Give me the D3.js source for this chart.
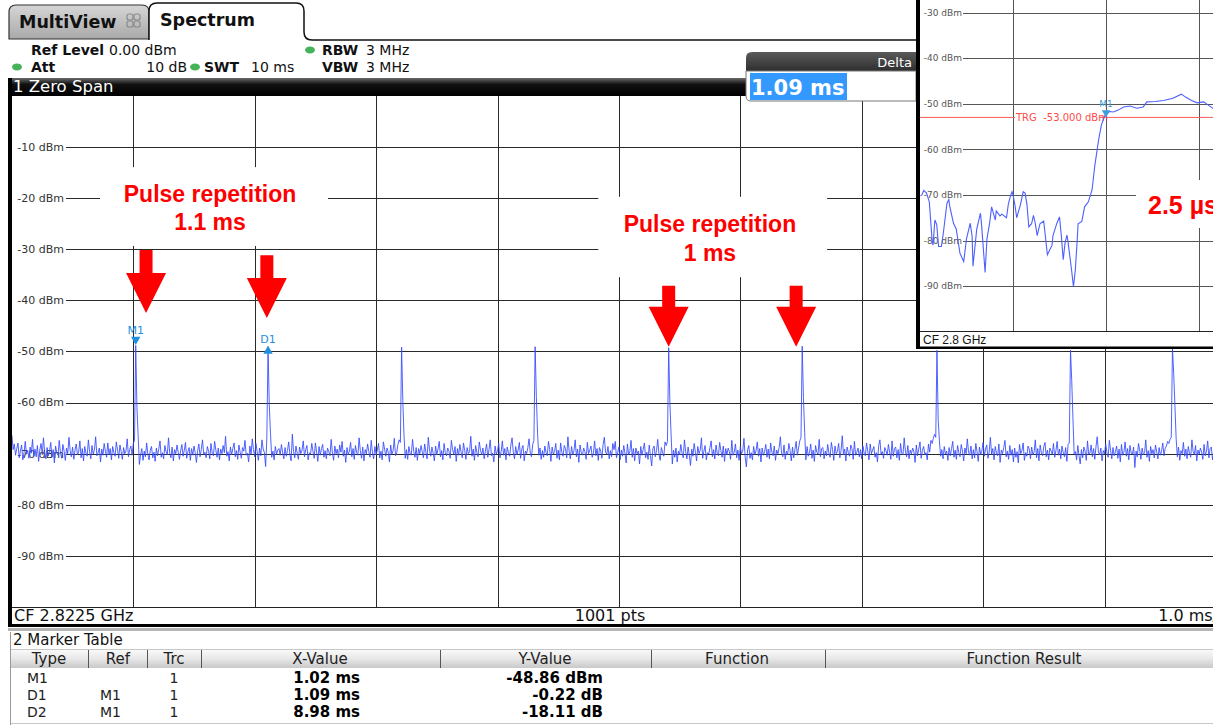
<!DOCTYPE html>
<html><head><meta charset="utf-8">
<script src="https://cdn.jsdelivr.net/npm/d3@7"></script>
<style>html,body{margin:0;padding:0;background:#fff;overflow:hidden}svg{display:block}text{font-family:"DejaVu Sans",sans-serif}</style>
</head><body><svg id="c" width="1213" height="725"></svg>
<script>
// ---------- DATA ----------
const sampleStepMs = 0.01; // 1001 pts over 10 ms
const noise = [
-66.4,-69.2,-68.1,-70.3,-69.0,-67.9,-70.8,-69.5,-68.3,-71.2,-69.8,-67.6,-70.1,-69.4,-70.9,-68.7,-69.9,-67.2,-70.5,-69.1,
-70.6,-68.4,-71.5,-69.3,-68.0,-70.2,-66.9,-69.7,-71.0,-68.8,-70.4,-69.6,-67.8,-70.7,-69.2,-71.8,-68.5,-69.9,-70.3,-67.4,
-69.8,-70.9,-68.2,-69.5,-71.3,-68.9,-70.0,-66.8,-69.4,-70.6,-68.7,-71.1,-69.3,-68.1,-70.2,-69.7,-67.5,-70.8,-69.0,-71.4,
-68.6,-69.9,-70.5,-67.3,-69.6,-71.0,-68.4,-70.1,-69.2,-66.7,-70.4,-69.8,-68.9,-71.6,-69.1,-70.3,-68.0,-69.5,-70.7,-67.9,
-70.2,-69.0,-71.2,-68.6,-69.8,-70.5,-67.7,-69.3,-70.9,-68.3,-69.6,-71.1,-68.8,-70.0,-69.4,-67.1,-70.6,-69.2,-68.5,-70.3,
-68.0,-67.4,-66.0,-67.0,-68.5,-72.1,-70.2,-69.0,-71.3,-69.5,-70.6,-67.9,-70.1,-71.2,-69.3,-68.6,-70.8,-69.7,-71.5,-68.9,
-70.4,-69.1,-67.5,-70.7,-69.8,-71.0,-68.4,-69.6,-70.2,-66.9,-69.9,-70.8,-68.7,-71.4,-69.2,-70.0,-68.3,-69.7,-71.1,-69.4,
-68.2,-70.5,-69.3,-67.8,-70.9,-69.6,-68.8,-71.3,-69.0,-70.3,-68.5,-69.8,-71.7,-69.4,-68.1,-70.6,-69.2,-67.3,-70.1,-69.7,
-70.8,-68.6,-69.5,-71.0,-68.0,-69.9,-70.4,-67.6,-69.3,-70.7,-68.9,-71.2,-69.1,-70.0,-68.4,-69.8,-66.6,-70.5,-69.6,-71.4,
-68.7,-70.2,-69.0,-67.9,-70.6,-69.4,-71.1,-68.3,-69.7,-70.9,-68.8,-69.5,-67.4,-70.3,-69.9,-71.6,-68.5,-70.1,-67.1,-69.2,
-70.6,-68.0,-69.6,-71.3,-68.9,-70.4,-67.3,-69.1,-69.8,-72.5,-67.0,-66.0,-66.8,-68.9,-70.7,-69.5,-71.2,-68.6,-70.1,-69.3,
-69.0,-70.3,-68.2,-69.7,-71.0,-68.8,-70.5,-69.4,-67.7,-70.2,-71.4,-66.2,-69.6,-70.8,-68.5,-69.9,-71.1,-68.7,-70.0,-69.3,
-67.5,-70.6,-69.2,-68.4,-71.2,-69.8,-70.1,-68.0,-69.5,-70.9,-67.9,-69.7,-71.5,-68.6,-70.3,-69.0,-68.2,-70.7,-69.4,-71.0,
-68.9,-69.6,-70.4,-67.2,-69.9,-71.3,-68.5,-70.0,-69.1,-70.8,-68.3,-69.7,-67.6,-70.5,-69.3,-71.7,-68.8,-70.2,-69.5,-67.8,
-70.6,-69.0,-71.1,-68.4,-69.8,-70.3,-66.9,-69.4,-70.9,-68.7,-71.4,-69.2,-70.0,-68.1,-69.6,-70.7,-67.4,-69.9,-71.0,-68.6,
-70.2,-69.3,-68.0,-70.8,-69.5,-71.2,-67.7,-69.1,-70.5,-68.9,-69.7,-71.6,-68.3,-70.1,-69.4,-67.0,-70.4,-69.8,-68.2,-67.3,
-67.8,-66.5,-66.0,-67.5,-70.9,-69.2,-71.1,-68.6,-69.9,-70.3,-67.2,-69.5,-70.7,-68.8,-71.3,-69.0,-70.0,-68.4,-69.6,-70.8,
-68.1,-69.7,-71.0,-66.8,-69.3,-70.5,-68.7,-69.9,-71.4,-68.5,-70.2,-69.1,-67.6,-70.6,-69.4,-71.2,-68.0,-69.8,-70.4,-68.9,
-69.5,-70.9,-67.4,-69.2,-70.1,-68.6,-71.5,-69.0,-70.3,-68.2,-69.7,-70.8,-67.9,-69.4,-71.1,-68.8,-70.0,-69.6,-66.6,-70.5,
-69.1,-71.3,-68.4,-69.8,-70.6,-67.7,-69.3,-70.2,-68.9,-71.0,-69.5,-68.1,-70.7,-69.2,-67.3,-70.4,-69.9,-71.6,-68.5,-70.1,
-69.4,-68.0,-70.8,-69.6,-67.5,-70.3,-69.0,-71.2,-68.7,-69.8,-70.5,-68.3,-66.9,-69.7,-71.0,-68.6,-70.2,-69.3,-67.8,-70.9,
-69.1,-68.4,-71.4,-69.5,-70.0,-68.8,-67.1,-69.9,-70.6,-68.2,-67.4,-66.2,-66.0,-67.0,-70.3,-68.9,-71.1,-69.4,-70.7,-68.5,
-69.8,-70.4,-67.6,-69.2,-71.5,-68.7,-70.1,-69.6,-68.0,-70.9,-69.3,-71.2,-67.9,-69.7,-70.5,-68.4,-69.0,-70.8,-66.7,-69.5,
-71.0,-68.6,-70.2,-69.4,-67.3,-70.6,-69.1,-71.7,-68.3,-69.8,-70.3,-68.9,-69.6,-71.1,-67.8,-70.0,-69.3,-68.5,-70.7,-69.9,
-67.5,-70.4,-69.0,-71.3,-68.8,-69.5,-70.9,-68.2,-66.8,-69.7,-70.1,-68.6,-71.0,-69.4,-70.6,-68.0,-69.2,-67.6,-70.8,-69.8,
-68.7,-71.2,-69.3,-70.5,-68.4,-69.9,-71.8,-68.1,-70.2,-69.6,-67.4,-70.7,-69.0,-71.4,-68.9,-70.0,-69.5,-72.0,-68.6,-70.3,
-69.2,-67.9,-70.8,-69.7,-71.1,-68.3,-70.4,-72.4,-69.0,-68.5,-70.6,-69.4,-67.2,-70.1,-71.3,-68.8,-69.8,-70.5,-67.7,-68.4,
-67.6,-66.5,-66.0,-67.2,-72.0,-69.3,-70.7,-68.9,-71.6,-69.5,-70.2,-68.2,-69.9,-70.8,-67.3,-69.6,-71.0,-68.7,-70.3,-72.3,
-69.1,-70.5,-68.0,-69.7,-71.4,-68.6,-70.0,-69.3,-66.9,-70.9,-69.5,-68.4,-71.2,-69.8,-70.1,-68.8,-67.5,-70.6,-69.2,-71.0,
-68.3,-69.9,-70.4,-67.8,-69.4,-70.7,-68.5,-71.5,-69.0,-70.2,-68.9,-69.6,-71.1,-67.4,-70.3,-69.7,-68.1,-70.8,-69.3,-71.3,
-68.7,-70.0,-69.5,-67.0,-70.6,-72.6,-69.2,-68.4,-70.9,-69.8,-71.2,-68.6,-70.1,-69.4,-67.7,-70.5,-69.0,-71.6,-68.9,-70.3,
-69.6,-68.2,-70.7,-69.1,-71.0,-67.9,-69.7,-70.4,-68.5,-71.3,-69.3,-70.0,-68.8,-66.7,-69.9,-70.6,-68.3,-71.1,-69.5,-70.2,
-68.0,-69.4,-71.4,-68.7,-70.8,-69.2,-67.6,-70.3,-68.9,-67.5,-66.8,-66.0,-67.0,-69.0,-71.2,-68.6,-70.5,-69.8,-68.1,-70.9,
-69.3,-71.5,-68.4,-69.7,-70.1,-67.2,-70.6,-69.0,-68.8,-71.0,-69.5,-70.4,-68.2,-69.9,-70.7,-67.8,-69.2,-71.3,-68.5,-70.0,
-69.6,-68.0,-70.8,-69.4,-66.5,-70.2,-69.1,-71.4,-68.7,-69.8,-70.5,-68.3,-69.0,-71.1,-67.6,-70.3,-69.7,-68.9,-70.6,-69.2,
-71.0,-68.5,-69.9,-70.4,-67.9,-69.5,-71.2,-68.1,-70.0,-69.3,-68.6,-70.7,-69.8,-71.6,-68.4,-67.3,-70.1,-69.6,-70.9,-68.8,
-69.4,-70.3,-68.2,-69.7,-71.1,-67.5,-70.5,-69.0,-68.7,-70.8,-69.2,-71.3,-68.0,-69.9,-70.2,-66.9,-69.5,-70.6,-68.4,-71.0,
-69.3,-70.0,-68.9,-69.6,-71.7,-68.3,-70.4,-69.1,-67.7,-70.9,-69.4,-68.6,-70.2,-69.8,-71.2,-68.1,-69.7,-67.4,-68.0,-67.0,
-66.2,-66.8,-66.0,-67.0,-68.0,-70.5,-69.2,-71.0,-68.6,-70.1,-69.5,-71.3,-68.8,-70.4,-69.0,-67.6,-70.7,-69.3,-71.1,-68.4,
-69.8,-70.6,-68.2,-69.5,-71.4,-68.9,-70.0,-67.1,-69.7,-70.3,-68.5,-71.0,-69.2,-70.8,-68.0,-69.6,-71.5,-68.7,-70.2,-69.4,
-67.8,-70.5,-69.1,-68.3,-70.9,-69.7,-66.8,-70.1,-69.0,-71.2,-68.6,-69.9,-70.4,-68.1,-71.7,-69.3,-70.0,-68.8,-67.4,-70.6,
-69.5,-71.1,-68.4,-70.3,-69.2,-71.6,-68.9,-70.7,-69.6,-71.8,-68.2,-70.0,-69.4,-67.9,-71.3,-69.8,-70.5,-68.5,-69.1,-71.0,
-68.7,-70.2,-69.7,-67.3,-70.8,-69.0,-71.4,-68.3,-69.9,-70.4,-68.6,-67.8,-70.6,-69.3,-71.2,-68.9,-69.5,-70.1,-68.0,-70.7,
-69.4,-67.6,-70.3,-69.1,-71.0,-68.5,-69.8,-70.6,-68.8,-71.5,-68.2,-67.9,-66.0,-67.0,-68.0,-70.0,-69.6,-71.2,-68.4,-70.4,
-72.0,-69.2,-70.8,-68.7,-69.5,-71.3,-67.5,-70.1,-69.9,-68.3,-70.6,-69.0,-71.1,-68.6,-66.7,-69.7,-70.2,-68.9,-71.4,-69.4,
-70.0,-68.1,-69.8,-70.7,-67.4,-69.3,-71.0,-68.8,-70.4,-69.6,-68.5,-70.9,-69.1,-71.6,-68.2,-70.3,-69.7,-67.7,-70.5,-69.0,
-71.2,-68.4,-69.9,-70.1,-68.7,-72.7,-69.5,-70.6,-68.0,-69.3,-71.1,-68.9,-70.2,-69.8,-67.3,-70.7,-69.4,-71.5,-68.6,-70.0,
-69.2,-70.8,-68.3,-69.6,-71.0,-68.8,-70.3,-69.5,-67.9,-70.4,-69.0,-68.5,-67.6,-68.0,-67.2,-66.8,-66.0,-67.0,-68.0,-67.0,
-70.6,-68.7,-71.3,-69.4,-70.0,-67.8,-70.5,-69.1,-71.0,-68.6,-69.9,-70.7,-67.3,-69.6,-70.2,-68.4,-71.4,-69.3,-70.1,-68.9,
-69.7,-71.1,-68.2,-70.4,-69.5,-67.5,-70.8,-69.0,-68.7,-71.2,-69.4,-70.3,-68.0,-69.8,-71.5,-68.6,-70.0,-69.2,-67.7,-70.5,
-69.1
];
const pulseIdx   = [102, 211, 321, 431, 541, 651, 762, 872, 956];
const pulsePeak  = [-48.86, -49.08, -49.2, -49.1, -49.3, -49.0, -49.8, -49.8, -49.4];
const pulseTail1 = [-61.0, -60.5, -59.6, -58.8, -60.0, -59.0, -63.3, -55.7, -54.3];
const pulseTail2 = [-66.5, -66.0, -66.5, -66.0, -66.3, -65.8, -67.5, -63.0, -60.5];

const yTicks = [-10, -20, -30, -40, -50, -60, -70, -80, -90];
const timeGrid = [1, 2, 3, 4, 5, 6, 7, 8, 9];

const markerNames = ["M1", "D1"];
const markerTime  = [1.02, 2.11];
const markerLevel = [-48.86, -49.08];

// annotation arrows (time in ms, levels in dBm)
const arrowTime = [1.105, 2.10, 5.41, 6.46];
const arrowTop  = [-30.2, -31.2, -37.2, -37.2];
const arrowTip  = [-42.5, -43.5, -49.1, -49.1];
const noteLine1 = ["Pulse repetition", "Pulse repetition"];
const noteLine2 = ["1.1 ms", "1 ms"];
const noteTime  = [1.632, 5.75];
const noteBase1 = [-20.75, -26.6];
const noteBase2 = [-26.3, -32.3];
const noteBoxT0 = [0.726, 4.83], noteBoxT1 = [2.604, 6.715];
const noteBoxL0 = [-14.0, -19.8], noteBoxL1 = [-29.4, -35.5];

// inset (rising edge, time in µs)
const insetTime = [0.005,0.02,0.04,0.07,0.10,0.13,0.14,0.16,0.18,0.20,0.23,0.25,0.29,0.31,0.32,0.36,0.39,0.43,0.47,0.50,
0.54,0.56,0.57,0.61,0.65,0.66,0.70,0.72,0.75,0.77,0.81,0.82,0.86,0.88,0.93,0.95,0.97,0.99,1.00,1.02,
1.04,1.08,1.11,1.13,1.15,1.17,1.20,1.22,1.24,1.26,1.29,1.33,1.37,1.42,1.43,1.47,1.50,1.52,1.54,1.56,
1.58,1.59,1.63,1.65,1.67,1.69,1.70,1.74,1.77,1.81,1.85,1.88,1.92,1.95,1.98,2.01,2.04,2.08,2.13,2.19,
2.26,2.33,2.40,2.44,2.53,2.62,2.72,2.81,2.86,2.92,2.98,3.05,3.10,3.15,3.20];
const insetLevel = [-70.2,-70.0,-69.0,-69.6,-71.5,-79.9,-81.0,-75.5,-76.5,-81.3,-81.3,-78.5,-71.8,-71.0,-72.5,-76.2,-77.5,-82.8,-84.6,-79.6,
-76.2,-79.0,-85.6,-77.5,-74.0,-76.0,-87.0,-79.6,-76.0,-72.6,-75.5,-73.5,-74.6,-74.2,-75.0,-72.0,-70.4,-69.3,-70.0,-72.1,
-75.0,-72.1,-69.3,-69.6,-72.1,-77.0,-76.3,-74.5,-76.3,-78.9,-76.3,-75.7,-83.1,-81.0,-78.9,-76.3,-74.8,-79.0,-84.2,-80.5,
-78.8,-80.0,-86.5,-90.1,-86.5,-80.0,-76.3,-75.8,-72.6,-71.5,-68.9,-63.5,-58.0,-54.7,-53.0,-52.1,-51.7,-51.8,-51.4,-50.7,
-50.5,-51.0,-50.7,-49.6,-49.5,-49.3,-48.8,-47.9,-48.6,-49.3,-49.8,-49.6,-50.3,-51.0,-51.5];
const insetYTicks = [-30, -40, -50, -60, -70, -80, -90];
const insetTimeGrid = [1, 2, 3];
const triggerLevel = -53;
const insetMarkerTime = 2.0, insetMarkerLevel = -52.6;

// marker table
const tableHeaders = ["Type", "Ref", "Trc", "X-Value", "Y-Value", "Function", "Function Result"];
const tableType = ["M1", "D1", "D2"];
const tableRef  = ["", "M1", "M1"];
const tableTrc  = ["1", "1", "1"];
const tableX    = ["1.02 ms", "1.09 ms", "8.98 ms"];
const tableY    = ["-48.86 dBm", "-0.22 dB", "-18.11 dB"];

// ---------- DRAW ----------
const svg = d3.select("#c");
const defs = svg.append("defs");
function lg(id, stops){ const g = defs.append("linearGradient").attr("id",id).attr("x1",0).attr("y1",0).attr("x2",0).attr("y2",1);
  stops.forEach(s=>g.append("stop").attr("offset",s[0]).attr("stop-color",s[1])); }
lg("tabG",[[0,"#d6d6d6"],[1,"#a9a9a9"]]);
lg("barG",[[0,"#6a6a6a"],[0.35,"#111"],[1,"#000"]]);
lg("delG",[[0,"#5a5a5a"],[0.5,"#222"],[1,"#111"]]);
lg("hdrG",[[0,"#fbfbfb"],[0.5,"#e8e8e8"],[1,"#c9c9c9"]]);

svg.append("rect").attr("width",1213).attr("height",725).attr("fill","#fff");

// tabs
svg.append("path").attr("d","M9,39 L9,12 Q9,5 16,5 L142,5 Q149,5 149,12 L149,39 Z")
  .attr("fill","url(#tabG)").attr("stroke","#333").attr("stroke-width",1.2);
svg.append("text").attr("x",19).attr("y",28).attr("font-size",17.5).attr("font-weight","bold").attr("fill","#111").text("MultiView");
const ic = svg.append("g").attr("fill","none").attr("stroke","#8a8a8a").attr("stroke-width",1.2);
[[127,14],[134,14],[127,21],[134,21]].forEach(p=>ic.append("rect").attr("x",p[0]).attr("y",p[1]).attr("width",6).attr("height",6).attr("rx",2));
svg.append("path").attr("d","M149,40 L149,11 Q149,3 157,3 L296,3 Q304,3 304,11 L304,32 Q304,40 312,40 L916,40")
  .attr("fill","#fff").attr("stroke","#111").attr("stroke-width",1.5);
svg.append("rect").attr("x",150).attr("y",36).attr("width",152).attr("height",6).attr("fill","#fff");
svg.append("text").attr("x",160).attr("y",26).attr("font-size",17.5).attr("font-weight","bold").attr("fill","#111").text("Spectrum");

// header info
const hdr = svg.append("g").attr("font-size",14).attr("fill","#111");
function t(x,y,s,bold,anchor){ hdr.append("text").attr("x",x).attr("y",y).attr("font-weight",bold?"bold":"normal").attr("text-anchor",anchor||"start").text(s); }
t(31,55,"Ref Level",true); t(109,55,"0.00 dBm");
t(31,72,"Att",true); t(187,72,"10 dB",false,"end"); t(204,72,"SWT",true); t(251,72,"10 ms");
t(322,55,"RBW",true); t(366,55,"3 MHz");
t(322,72,"VBW",true); t(366,72,"3 MHz");
[[17,67],[195,67],[310,50]].forEach(p=>svg.append("ellipse").attr("cx",p[0]).attr("cy",p[1]).attr("rx",5).attr("ry",3.5).attr("fill","#44b35a"));

// main chart
const x = d3.scaleLinear().domain([0,10]).range([11.9,1225.9]);
const y = d3.scaleLinear().domain([0,-100]).range([95.5,607.2]);
const px = v => Math.round(v)+0.5;

svg.append("rect").attr("x",10).attr("y",78).attr("width",906).attr("height",18).attr("fill","url(#barG)");
svg.append("text").attr("x",13).attr("y",92).attr("font-size",16.5).attr("fill","#fff").text("1 Zero Span");

const grid = svg.append("g").attr("stroke","#2a2a2a").attr("stroke-width",1);
timeGrid.forEach(v=>grid.append("line").attr("x1",px(x(v))).attr("x2",px(x(v))).attr("y1",96).attr("y2",607));
yTicks.forEach(v=>grid.append("line").attr("x1",66).attr("x2",1213).attr("y1",px(y(v))).attr("y2",px(y(v))));
svg.append("g").selectAll("text").data(yTicks).join("text")
  .attr("x",64).attr("y",v=>y(v)).attr("dy","0.35em").attr("text-anchor","end")
  .attr("font-size",11).attr("fill","#333").text(v=>v+" dBm");

// annotation boxes
noteTime.forEach((_,j)=>svg.append("rect").attr("x",x(noteBoxT0[j])).attr("y",y(noteBoxL0[j]))
  .attr("width",x(noteBoxT1[j])-x(noteBoxT0[j])).attr("height",y(noteBoxL1[j])-y(noteBoxL0[j])).attr("fill","#fff"));

// trace
const trace = noise.slice();
pulseIdx.forEach((k,j)=>{ trace[k]=pulsePeak[j]; trace[k+1]=pulseTail1[j]; trace[k+2]=pulseTail2[j]; });
defs.append("clipPath").attr("id","plotClip").append("rect").attr("x",12).attr("y",96).attr("width",1201).attr("height",511);
svg.append("path").datum(trace).attr("clip-path","url(#plotClip)")
  .attr("fill","none").attr("stroke","#3348ff").attr("stroke-opacity",0.9).attr("stroke-width",0.95).attr("stroke-linejoin","round")
  .attr("d",d3.line().x((d,i)=>x(i*sampleStepMs)).y(d=>y(d)));

// markers
const mcol = "#1f8fe0";
markerNames.forEach((n,j)=>{
  const mx = x(markerTime[j]), my = y(markerLevel[j]);
  if(j===0){
    svg.append("path").attr("d",d3.symbol(d3.symbolTriangle,38)()).attr("transform",`translate(${mx},${my-6}) rotate(180)`).attr("fill",mcol);
    svg.append("text").attr("x",mx).attr("y",my-12).attr("text-anchor","middle").attr("font-size",11).attr("fill",mcol).text(n);
  } else {
    svg.append("path").attr("d",d3.symbol(d3.symbolTriangle,38)()).attr("transform",`translate(${mx},${my+4.5})`).attr("fill",mcol);
    svg.append("text").attr("x",mx).attr("y",my-4).attr("text-anchor","middle").attr("font-size",11).attr("fill",mcol).text(n);
  }
});

// arrows
arrowTime.forEach((tm,j)=>{
  const cx = x(tm), yt = y(arrowTop[j]), yp = y(arrowTip[j]), hs = yp-40;
  svg.append("polygon").attr("fill","#ff0000")
    .attr("points",[[cx-6.5,yt],[cx+6.5,yt],[cx+6.5,hs],[cx+20,hs],[cx,yp],[cx-20,hs],[cx-6.5,hs]].map(p=>p.join(",")).join(" "));
});
noteTime.forEach((tm,j)=>{
  const g = svg.append("g").attr("font-weight","bold")
    .attr("font-size",23).attr("fill","#ff0000").attr("text-anchor","middle");
  g.append("text").attr("x",x(tm)).attr("y",y(noteBase1[j])).style("font-family","Liberation Sans, Arial, sans-serif").text(noteLine1[j]);
  g.append("text").attr("x",x(tm)).attr("y",y(noteBase2[j])).style("font-family","Liberation Sans, Arial, sans-serif").text(noteLine2[j]);
});

// left frame and bottom bar
svg.append("rect").attr("x",8).attr("y",78).attr("width",4).attr("height",549).attr("fill","#000");
svg.append("rect").attr("x",12).attr("y",607).attr("width",1201).attr("height",18).attr("fill","#fff");
svg.append("line").attr("x1",12).attr("x2",1213).attr("y1",607.5).attr("y2",607.5).attr("stroke","#222");
svg.append("rect").attr("x",8).attr("y",624).attr("width",1205).attr("height",3).attr("fill","#000");
svg.append("rect").attr("x",8).attr("y",628).attr("width",1205).attr("height",3).attr("fill","#b5b5b5");
const bb = svg.append("g").attr("font-size",16).attr("fill","#111");
bb.append("text").attr("x",14).attr("y",621).text("CF 2.8225 GHz");
bb.append("text").attr("x",610).attr("y",621).attr("text-anchor","middle").text("1001 pts");
bb.append("text").attr("x",1218).attr("y",621).attr("text-anchor","end").text("1.0 ms/");

// delta box
svg.append("path").attr("d","M746,101 L746,58 Q746,52 752,52 L916,52 L916,71 L746,71 Z").attr("fill","url(#delG)");
svg.append("path").attr("d","M746,71 L916,71 L916,101 L751,101 Q746,101 746,96 Z").attr("fill","#fff").attr("stroke","#777").attr("stroke-width",1);
svg.append("text").attr("x",912).attr("y",67).attr("text-anchor","end").attr("font-size",13).attr("fill","#fff").text("Delta");
svg.append("rect").attr("x",750).attr("y",73).attr("width",97).attr("height",27).attr("fill","#3399ff");
svg.append("text").attr("x",751).attr("y",95).attr("font-size",21).attr("font-weight","bold").attr("fill","#fff").text("1.09 ms");

// inset
const ix = d3.scaleLinear().domain([0,1]).range([920,1013]);
const iy = d3.scaleLinear().domain([-30,-90]).range([12.5,286.2]);
const ins = svg.append("g");
defs.append("clipPath").attr("id","insClip").append("rect").attr("x",920).attr("y",0).attr("width",293).attr("height",331);
ins.append("rect").attr("x",916).attr("y",0).attr("width",297).attr("height",349).attr("fill","#fff");
const ig = ins.append("g").attr("stroke","#555").attr("stroke-width",1);
insetTimeGrid.forEach(v=>ig.append("line").attr("x1",px(ix(v))).attr("x2",px(ix(v))).attr("y1",0).attr("y2",331));
insetYTicks.forEach(v=>ig.append("line").attr("x1",963).attr("x2",1213).attr("y1",px(iy(v))).attr("y2",px(iy(v))));
ins.append("g").selectAll("text").data(insetYTicks).join("text")
  .attr("x",962).attr("y",v=>iy(v)).attr("dy","0.35em").attr("text-anchor","end")
  .attr("font-size",9).attr("fill","#555").text(v=>v+" dBm");
ins.append("line").attr("x1",920).attr("x2",1213).attr("y1",iy(triggerLevel)).attr("y2",iy(triggerLevel)).attr("stroke","#ff5a5a");
ins.append("rect").attr("x",1015).attr("y",iy(triggerLevel)-6).attr("width",85).attr("height",12).attr("fill","#fff");
ins.append("text").attr("x",1016).attr("y",iy(triggerLevel)).attr("dy","0.35em").attr("font-size",10).attr("fill","#ff4a4a")
  .attr("xml:space","preserve").text("TRG  -53.000 dBm");
// 2.5 µs label box
ins.append("rect").attr("x",1136).attr("y",180).attr("width",80).attr("height",48).attr("fill","#fff");
ins.append("path").datum(insetTime.map((tm,i)=>[tm,insetLevel[i]])).attr("clip-path","url(#insClip)")
  .attr("fill","none").attr("stroke","#4d5fff").attr("stroke-width",1.1)
  .attr("d",d3.line().x(d=>ix(d[0])).y(d=>iy(d[1])));
const imx = ix(insetMarkerTime), imy = iy(insetMarkerLevel);
ins.append("path").attr("d",d3.symbol(d3.symbolTriangle,30)()).attr("transform",`translate(${imx},${imy-3}) rotate(180)`).attr("fill","#39a0e0");
ins.append("text").attr("x",imx).attr("y",imy-9).attr("text-anchor","middle").attr("font-size",9).attr("fill","#39a0e0").text("M1");
ins.append("text").attr("x",1148).attr("y",214).attr("font-size",25).attr("font-weight","bold").attr("fill","#ff0000")
  .style("font-family","Liberation Sans, Arial, sans-serif").text("2.5 µs");
ins.append("rect").attr("x",920).attr("y",331).attr("width",293).attr("height",16).attr("fill","#fff");
ins.append("line").attr("x1",920).attr("x2",1213).attr("y1",331.5).attr("y2",331.5).attr("stroke","#222");
ins.append("text").attr("x",923).attr("y",344).attr("font-size",12).attr("fill","#111")
  .style("font-family","Liberation Sans, Arial, sans-serif").text("CF 2.8 GHz");
ins.append("rect").attr("x",916).attr("y",0).attr("width",4).attr("height",349).attr("fill","#000");
ins.append("rect").attr("x",916).attr("y",346.5).attr("width",297).attr("height",2.5).attr("fill","#000");

// marker table
svg.append("text").attr("x",13).attr("y",645).attr("font-size",15).attr("fill","#111").text("2 Marker Table");
svg.append("rect").attr("x",11).attr("y",649).attr("width",1202).attr("height",19).attr("fill","url(#hdrG)");
svg.append("line").attr("x1",11).attr("x2",1213).attr("y1",649.5).attr("y2",649.5).attr("stroke","#c8c8c8");
svg.append("line").attr("x1",10.5).attr("x2",10.5).attr("y1",632).attr("y2",725).attr("stroke","#999");
const sepX = [88,147,201,440,651,825];
sepX.forEach(v=>svg.append("line").attr("x1",v+0.5).attr("x2",v+0.5).attr("y1",650).attr("y2",668).attr("stroke","#555"));
const colC = [49,118,174,320,545,737,1024];
tableHeaders.forEach((h,i)=>svg.append("text").attr("x",colC[i]).attr("y",664).attr("text-anchor","middle")
  .attr("font-size",15).attr("fill","#222").text(h));
const rowY = [683,700,717];
tableType.forEach((tp,r)=>{
  svg.append("text").attr("x",27).attr("y",rowY[r]).attr("font-size",14).attr("fill","#222").text(tp);
  svg.append("text").attr("x",100).attr("y",rowY[r]).attr("font-size",14).attr("fill","#222").text(tableRef[r]);
  svg.append("text").attr("x",174).attr("y",rowY[r]).attr("text-anchor","middle").attr("font-size",14).attr("fill","#222").text(tableTrc[r]);
  svg.append("text").attr("x",360).attr("y",rowY[r]).attr("text-anchor","end").attr("font-size",15).attr("font-weight","bold").attr("fill","#000").text(tableX[r]);
  svg.append("text").attr("x",603).attr("y",rowY[r]).attr("text-anchor","end").attr("font-size",15).attr("font-weight","bold").attr("fill","#000").text(tableY[r]);
});
svg.append("line").attr("x1",11).attr("x2",1213).attr("y1",723.5).attr("y2",723.5).attr("stroke","#c8c8c8");
</script></body></html>
